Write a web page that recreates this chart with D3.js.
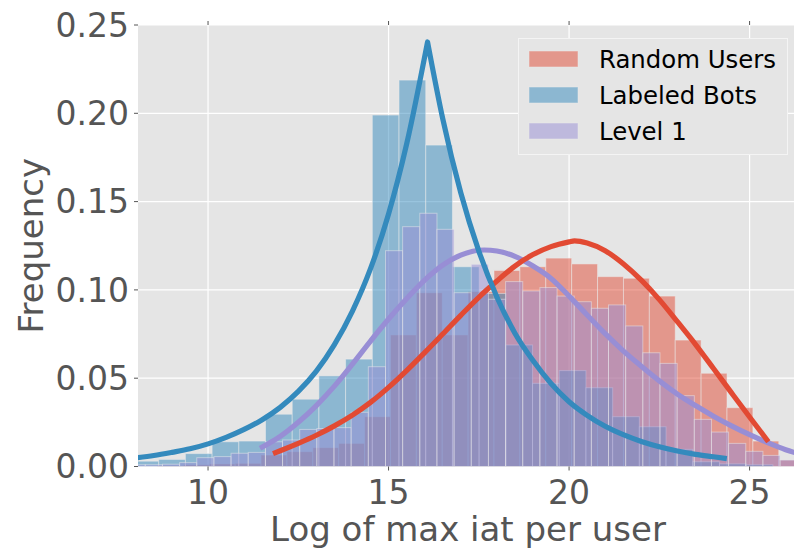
<!DOCTYPE html>
<html>
<head>
<meta charset="utf-8">
<script src="https://cdn.jsdelivr.net/npm/d3@7"></script>
<style>
  html, body { margin: 0; padding: 0; background: #ffffff; }
  svg { display: block; }
  text { font-family: "DejaVu Sans", sans-serif; }
</style>
</head>
<body>
<div id="chart"></div>
<script>
// ---------------- data ----------------
const seriesNames = ["Random Users", "Labeled Bots", "Level 1"];
const seriesColors = ["#E24A33", "#348ABD", "#988ED5"];

// histogram bins: first left edge and bin width (x units), then bar heights
const randomStart = 8.60, randomWidth = 0.717;
const randomHeights = [0.0005, 0.0010, 0.0015, 0.0018, 0.0065, 0.0084, 0.0107, 0.0131,
  0.0282, 0.0745, 0.0984, 0.0745, 0.0990, 0.1110, 0.1131, 0.1180, 0.1147, 0.1075,
  0.1066, 0.0965, 0.0716, 0.0528, 0.0333, 0.0144, 0.0037];

const botsStart = 7.894, botsWidth = 0.7396;
const botsHeights = [0.0030, 0.0040, 0.0073, 0.0140, 0.0144, 0.0296, 0.0381, 0.0513,
  0.0608, 0.1990, 0.2188, 0.1820, 0.1131, 0.0980, 0.0688, 0.0471, 0.0543, 0.0446,
  0.0282, 0.0225, 0.0097, 0.0027, 0.0015, 0.0010];

const levelStart = 7.787, levelWidth = 0.4752;
const levelHeights = [0.0010, 0.0010, 0.0013, 0.0022, 0.0050, 0.0056, 0.0075, 0.0080,
  0.0140, 0.0150, 0.0210, 0.0215, 0.0220, 0.0307, 0.0565, 0.1222, 0.1358, 0.1434,
  0.1343, 0.0984, 0.1145, 0.0947, 0.1047, 0.0994, 0.1013, 0.0965, 0.0933, 0.0896,
  0.0915, 0.0796, 0.0644, 0.0584, 0.0401, 0.0267, 0.0195, 0.0131, 0.0086, 0.0063,
  0.0037, 0.0020];

// fitted curves, points
const randomCurveX = [11.8, 12.0, 12.5, 13.0, 13.5, 14.0, 14.5, 15.0, 15.5, 16.0, 16.5,
  17.0, 17.5, 18.0, 18.5, 19.0, 19.5, 20.0, 20.15, 20.5, 21.0, 21.5, 22.0, 22.5, 23.0,
  23.5, 24.0, 24.5, 25.0, 25.52];
const randomCurveY = [0.0073, 0.0089, 0.0131, 0.0177, 0.0230, 0.0291, 0.0363, 0.0448,
  0.0543, 0.0645, 0.0750, 0.0856, 0.0958, 0.1050, 0.1135, 0.1200, 0.1245, 0.1272,
  0.1278, 0.1266, 0.1222, 0.1148, 0.1055, 0.0945, 0.0820, 0.0692, 0.0555, 0.0417,
  0.0280, 0.0140];

// Labeled Bots curve: left branch up to the peak, right branch from the peak
const botsLeftX = [7.9, 8.5, 9.0, 9.5, 10.0, 10.5, 11.0, 11.5, 12.0, 12.5, 13.0, 13.5,
  14.0, 14.5, 15.0, 15.5, 16.08];
const botsLeftY = [0.0046, 0.0062, 0.0080, 0.0100, 0.0128, 0.0165, 0.0210, 0.0265,
  0.0335, 0.0425, 0.0540, 0.0690, 0.0880, 0.1120, 0.1430, 0.1825, 0.2404];
const botsRightX = [16.08, 16.5, 17.0, 17.5, 18.0, 18.5, 19.0, 19.5, 20.0, 20.5, 21.0,
  21.5, 22.0, 22.5, 23.0, 23.5, 24.0, 24.37];
const botsRightY = [0.2404, 0.1970, 0.1550, 0.1220, 0.0960, 0.0755, 0.0600, 0.0470,
  0.0367, 0.0290, 0.0228, 0.0180, 0.0142, 0.0112, 0.0088, 0.0069, 0.0055, 0.0045];

const levelCurveX = [11.44, 12.0, 12.5, 13.0, 13.5, 14.0, 14.5, 15.0, 15.5, 16.0, 16.5,
  17.0, 17.65, 18.0, 18.5, 19.0, 19.5, 20.0, 20.5, 21.0, 21.5, 22.0, 22.5, 23.0, 23.5,
  24.0, 24.5, 25.0, 25.5, 26.0, 26.4];
const levelCurveY = [0.0103, 0.0170, 0.0250, 0.0345, 0.0455, 0.0580, 0.0710, 0.0835,
  0.0950, 0.1055, 0.1140, 0.1197, 0.1226, 0.1220, 0.1190, 0.1135, 0.1065, 0.0965,
  0.0858, 0.0752, 0.0655, 0.0568, 0.0485, 0.0410, 0.0345, 0.0285, 0.0230, 0.0180,
  0.0135, 0.0095, 0.0070];

const xTicks = [10, 15, 20, 25];
const yTicks = [0.00, 0.05, 0.10, 0.15, 0.20, 0.25];
const xDomain = [8.06, 26.23];
const yDomain = [0, 0.25];
const xLabel = "Log of max iat per user";
const yLabel = "Frequency";

// ---------------- layout ----------------
const W = 794, H = 550;
const pLeft = 138, pRight = 794, pTop = 25, pBottom = 466.5;

const svg = d3.select("#chart").append("svg").attr("width", W).attr("height", H);

const x = d3.scaleLinear().domain(xDomain).range([pLeft, pRight]);
const y = d3.scaleLinear().domain(yDomain).range([pBottom, pTop]);

svg.append("defs").append("clipPath").attr("id", "plotclip")
  .append("rect").attr("x", pLeft).attr("y", pTop).attr("width", pRight - pLeft).attr("height", pBottom - pTop);

// background
svg.append("rect").attr("x", pLeft).attr("y", pTop).attr("width", pRight - pLeft)
  .attr("height", pBottom - pTop).attr("fill", "#E5E5E5");

// grid
const grid = svg.append("g").attr("clip-path", "url(#plotclip)");
grid.selectAll("line.gx").data(xTicks).join("line").attr("class", "gx")
  .attr("x1", d => x(d)).attr("x2", d => x(d)).attr("y1", pTop).attr("y2", pBottom)
  .attr("stroke", "#ffffff").attr("stroke-width", 1.2);
grid.selectAll("line.gy").data(yTicks).join("line").attr("class", "gy")
  .attr("y1", d => y(d)).attr("y2", d => y(d)).attr("x1", pLeft).attr("x2", pRight)
  .attr("stroke", "#ffffff").attr("stroke-width", 1.2);

// histograms
const plot = svg.append("g").attr("clip-path", "url(#plotclip)");
const hists = [
  { start: randomStart, width: randomWidth, heights: randomHeights, color: seriesColors[0] },
  { start: botsStart, width: botsWidth, heights: botsHeights, color: seriesColors[1] },
  { start: levelStart, width: levelWidth, heights: levelHeights, color: seriesColors[2] }
];
hists.forEach(h => {
  const bins = h.heights.map((v, i) => ({ x0: h.start + i * h.width, x1: h.start + (i + 1) * h.width, v }));
  plot.append("g").selectAll("rect").data(bins).join("rect")
    .attr("x", d => x(d.x0))
    .attr("width", d => x(d.x1) - x(d.x0))
    .attr("y", d => y(d.v))
    .attr("height", d => y(0) - y(d.v))
    .attr("fill", h.color).attr("fill-opacity", 0.5)
    .attr("stroke", "#EEEEEE").attr("stroke-opacity", 0.5).attr("stroke-width", 1);
});

// curves
const lineGen = d3.line().x(d => x(d[0])).y(d => y(d[1])).curve(d3.curveMonotoneX);
const zipPts = (xs, ys) => xs.map((v, i) => [v, ys[i]]);

function drawCurve(d, color) {
  plot.append("path").attr("d", d).attr("fill", "none").attr("stroke", color)
    .attr("stroke-width", 5.2).attr("stroke-linejoin", "round").attr("stroke-linecap", "butt");
}
drawCurve(lineGen(zipPts(levelCurveX, levelCurveY)), seriesColors[2]);
drawCurve(lineGen(zipPts(randomCurveX, randomCurveY)), seriesColors[0]);
const botsD = lineGen(zipPts(botsLeftX, botsLeftY)) +
  lineGen(zipPts(botsRightX, botsRightY)).replace(/^M/, "L");
drawCurve(botsD, seriesColors[1]);

// axes: ticks + labels
const tickColor = "#555555";
const axG = svg.append("g");
xTicks.forEach(t => {
  axG.append("line").attr("x1", x(t)).attr("x2", x(t)).attr("y1", pBottom).attr("y2", pBottom + 4)
    .attr("stroke", tickColor).attr("stroke-width", 1);
  axG.append("line").attr("x1", x(t)).attr("x2", x(t)).attr("y1", pTop).attr("y2", pTop - 4)
    .attr("stroke", tickColor).attr("stroke-width", 1);
  axG.append("text").attr("x", x(t)).attr("y", 504).attr("text-anchor", "middle")
    .attr("font-size", 33).attr("fill", tickColor).text(d3.format("d")(t));
});
yTicks.forEach(t => {
  axG.append("line").attr("x1", pLeft - 4).attr("x2", pLeft).attr("y1", y(t)).attr("y2", y(t))
    .attr("stroke", tickColor).attr("stroke-width", 1);
  axG.append("text").attr("x", 129).attr("y", y(t)).attr("dy", "0.36em").attr("text-anchor", "end")
    .attr("font-size", 33).attr("fill", tickColor).text(d3.format(".2f")(t));
});
svg.append("text").attr("x", (pLeft + pRight) / 2 + 2).attr("y", 541).attr("text-anchor", "middle")
  .attr("font-size", 34).attr("fill", tickColor).text(xLabel);
svg.append("text").attr("transform", "translate(43," + ((pTop + pBottom) / 2) + ") rotate(-90)")
  .attr("text-anchor", "middle").attr("font-size", 34).attr("fill", tickColor).text(yLabel);

// legend
const lg = svg.append("g");
lg.append("rect").attr("x", 518.5).attr("y", 38.5).attr("width", 269).attr("height", 116)
  .attr("fill", "#E5E5E5").attr("stroke", "#F4F4F4").attr("stroke-width", 1);
seriesNames.forEach((name, i) => {
  const cy = 59 + i * 36;
  lg.append("rect").attr("x", 529).attr("y", cy - 8).attr("width", 49).attr("height", 16)
    .attr("fill", seriesColors[i]).attr("fill-opacity", 0.5)
    .attr("stroke", "#EEEEEE").attr("stroke-opacity", 0.5);
  lg.append("text").attr("x", 599).attr("y", cy).attr("dy", "0.36em")
    .attr("font-size", 24.4).attr("fill", "#000000").text(name);
});
</script>
</body>
</html>
